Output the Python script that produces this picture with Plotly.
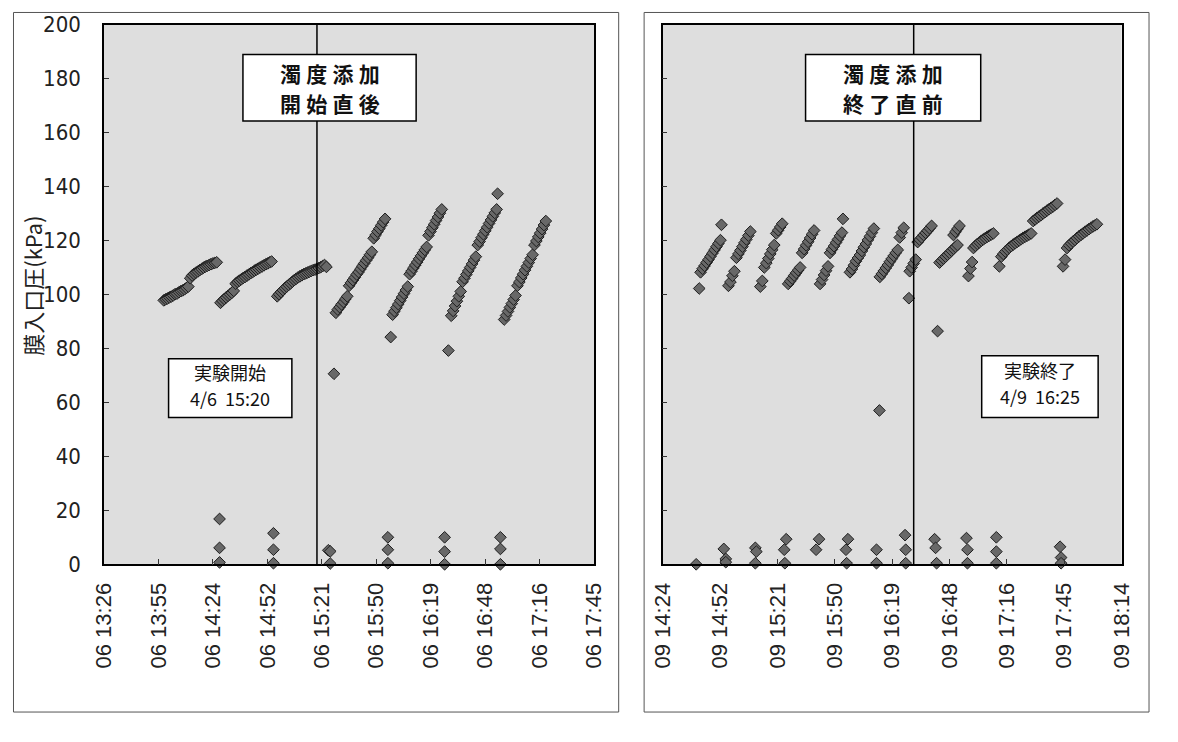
import plotly.graph_objects as go

# Membrane inlet pressure logs (kPa) for two sessions: 4/6 and 4/9.
DATE_START = "2005-04-06"
DATE_END = "2005-04-09"

start_time = [
    "13:58", "13:59", "14:00", "14:01", "14:02", "14:03", "14:04", "14:05", "14:06", "14:07", "14:08", "14:09", "14:10", "14:11",
    "14:12", "14:13", "14:14", "14:15", "14:16", "14:17", "14:18", "14:19", "14:20", "14:21", "14:22", "14:23", "14:24", "14:25", "14:26",
    "14:27:30", "14:27:30", "14:27:30",
    "14:28", "14:29", "14:30", "14:31", "14:32", "14:33", "14:34", "14:35",
    "14:36", "14:37", "14:38", "14:39", "14:40", "14:41", "14:42", "14:43", "14:44", "14:45", "14:46", "14:47", "14:48", "14:49", "14:50",
    "14:51", "14:52", "14:53", "14:54", "14:55",
    "14:56", "14:56", "14:56",
    "14:58", "14:59", "15:00", "15:01", "15:02", "15:03", "15:04", "15:05", "15:06", "15:07", "15:08", "15:09", "15:10", "15:11", "15:12",
    "15:13", "15:14", "15:15", "15:16", "15:17", "15:18", "15:19", "15:20", "15:21", "15:22", "15:23", "15:24",
    "15:25:00", "15:26:00", "15:26:00",
    "15:28",
    "15:29", "15:30", "15:31", "15:32", "15:33", "15:34", "15:35",
    "15:36", "15:37", "15:38", "15:39", "15:40", "15:41", "15:42", "15:43", "15:44", "15:45", "15:46", "15:47", "15:48",
    "15:49", "15:50", "15:51", "15:52", "15:53", "15:54", "15:55",
    "15:56:30", "15:56:30", "15:56:30",
    "15:58",
    "15:59", "16:00", "16:01", "16:02", "16:03", "16:04", "16:05", "16:06", "16:07",
    "16:08", "16:09", "16:10", "16:11", "16:12", "16:13", "16:14", "16:15", "16:16", "16:17",
    "16:18", "16:19", "16:20", "16:21", "16:22", "16:23", "16:24", "16:25",
    "16:26:30", "16:26:30", "16:26:30",
    "16:28:30",
    "16:30", "16:31", "16:32", "16:33", "16:34", "16:35",
    "16:36", "16:37", "16:38", "16:39", "16:40", "16:41", "16:42", "16:43",
    "16:44", "16:45", "16:46", "16:47", "16:48", "16:49", "16:50", "16:51", "16:52", "16:53", "16:54",
    "16:54:30",
    "16:56", "16:56", "16:56",
    "16:58", "16:59", "17:00", "17:01", "17:02", "17:03", "17:04",
    "17:05", "17:06", "17:07", "17:08", "17:09", "17:10", "17:11", "17:12", "17:13",
    "17:14", "17:15", "17:16", "17:17", "17:18", "17:19", "17:20",
]
start_kpa = [
    97.8, 98.2, 98.5, 98.9, 99.2, 99.6, 100.1, 100.3, 100.8, 101.2, 101.5, 101.9, 102.4, 102.9,
    106.0, 107.0, 107.6, 108.1, 108.5, 109.0, 109.4, 109.9, 110.3, 110.6, 110.9, 111.2, 111.5, 111.7, 111.9,
    16.8, 6.1, 0.7,
    96.9, 97.6, 98.3, 98.9, 99.5, 100.0, 100.6, 101.3,
    104.0, 104.6, 105.1, 105.6, 106.1, 106.5, 107.0, 107.4, 107.9, 108.3, 108.8, 109.2, 109.6, 110.0, 110.4,
    110.8, 111.2, 111.5, 111.9, 112.2,
    11.5, 5.4, 0.4,
    99.3, 100.1, 100.9, 101.6, 102.3, 102.9, 103.5, 104.1, 104.7, 105.3, 105.8, 106.3, 106.7, 107.1, 107.5,
    107.8, 108.1, 108.4, 108.7, 109.0, 109.2, 109.5, 109.8, 110.1, 110.5, 110.9, 110.2,
    5.2, 4.8, 0.3,
    70.6,
    93.2, 94.4, 95.3, 96.3, 97.2, 98.3, 99.3,
    103.2, 104.3, 105.3, 106.3, 107.4, 108.3, 109.4, 110.5, 111.5, 112.6, 113.6, 114.7, 115.8,
    120.8, 122.0, 123.3, 124.4, 125.6, 126.8, 128.0,
    10.0, 5.4, 0.4,
    84.2,
    92.5, 93.8, 95.1, 96.4, 97.7, 99.0, 100.3, 101.6, 102.9,
    107.5, 108.6, 109.8, 110.9, 112.0, 113.2, 114.3, 115.4, 116.5, 117.6,
    121.9, 123.3, 124.7, 126.0, 127.4, 128.7, 130.1, 131.5,
    10.0, 4.7, 0.0,
    79.2,
    92.1, 93.9, 95.7, 97.5, 99.3, 101.1,
    104.7, 106.0, 107.4, 108.7, 110.0, 111.3, 112.7, 114.0,
    118.3, 119.6, 121.0, 122.3, 123.6, 124.9, 126.3, 127.6, 128.9, 130.2, 131.5,
    137.3,
    10.0, 5.7, 0.0,
    90.7, 92.2, 93.7, 95.2, 96.6, 98.1, 99.6,
    103.2, 104.6, 106.1, 107.5, 109.0, 110.4, 111.8, 113.3, 114.7,
    118.3, 119.8, 121.3, 122.7, 124.2, 125.7, 127.2,
]

end_time = [
    "14:40:48",
    "14:42:20",
    "14:43", "14:44", "14:45", "14:46", "14:47", "14:48", "14:49", "14:50", "14:51", "14:52", "14:53",
    "14:53:30",
    "14:54:40", "14:55:40", "14:55:40",
    "14:57", "14:58", "14:59", "15:00",
    "15:01", "15:02", "15:03", "15:04", "15:05", "15:06", "15:07", "15:08",
    "15:10:30", "15:11:00", "15:10:30",
    "15:13", "15:14",
    "15:15", "15:16", "15:17", "15:18", "15:19", "15:20",
    "15:21", "15:22", "15:23", "15:24",
    "15:26:00", "15:25:00", "15:25:20",
    "15:27", "15:28", "15:29", "15:30", "15:31", "15:32", "15:33",
    "15:34", "15:35", "15:36", "15:37", "15:38", "15:39", "15:40",
    "15:41:00", "15:42:30",
    "15:43", "15:44", "15:45", "15:46", "15:47",
    "15:48", "15:49", "15:50", "15:51", "15:52", "15:53", "15:54",
    "15:54:30",
    "15:56:00", "15:57:00", "15:56:20",
    "15:58", "15:59", "16:00", "16:01", "16:02", "16:03", "16:04", "16:05", "16:06", "16:07", "16:08", "16:09", "16:10",
    "16:11:20", "16:11:20",
    "16:12:48",
    "16:13", "16:14", "16:15", "16:16", "16:17", "16:18", "16:19", "16:20", "16:21", "16:22",
    "16:23", "16:24", "16:25",
    "16:25:40", "16:26:00", "16:26:00",
    "16:27:36",
    "16:28", "16:29", "16:30", "16:31",
    "16:32", "16:33", "16:34", "16:35", "16:36", "16:37", "16:38", "16:39",
    "16:40:30", "16:41:00", "16:41:30",
    "16:42:00",
    "16:43", "16:44", "16:45", "16:46", "16:47", "16:48", "16:49", "16:50", "16:51", "16:52",
    "16:50", "16:51", "16:52", "16:53",
    "16:56:30", "16:57:00", "16:57:00",
    "16:57:30", "16:58:30", "16:59:20",
    "17:00", "17:01", "17:02", "17:03", "17:04", "17:05", "17:06", "17:07", "17:08", "17:09", "17:10",
    "17:11:30", "17:11:30", "17:11:30",
    "17:13:00",
    "17:14", "17:15", "17:16", "17:17", "17:18", "17:19", "17:20", "17:21", "17:22", "17:23", "17:24", "17:25",
    "17:26", "17:27", "17:28", "17:29",
    "17:30", "17:31", "17:32", "17:33", "17:34", "17:35", "17:36", "17:37", "17:38", "17:39", "17:40", "17:41", "17:42",
    "17:43:30", "17:44:00", "17:44:00",
    "17:45", "17:46",
    "17:47", "17:48", "17:49", "17:50", "17:51", "17:52", "17:53", "17:54", "17:55", "17:56", "17:57", "17:58",
    "17:59", "18:00", "18:01", "18:02",
]
end_kpa = [
    0.0,
    102.2,
    108.2, 109.5, 110.6, 111.8, 112.9, 114.1, 115.3, 116.5, 117.7, 118.9, 120.1,
    125.8,
    5.7, 2.0, 0.8,
    103.2, 104.6, 106.9, 108.6,
    113.6, 115.0, 116.3, 117.7, 119.1, 120.4, 121.8, 123.3,
    6.1, 4.7, 0.4,
    102.9, 105.0,
    110.0, 111.6, 113.3, 115.0, 116.6, 118.3,
    122.6, 123.8, 125.0, 126.2,
    9.3, 5.4, 0.4,
    103.9, 104.9, 105.9, 107.0, 108.0, 109.0, 110.0,
    115.4, 116.8, 118.2, 119.5, 120.9, 122.3, 123.7,
    5.4, 9.3,
    103.9, 105.5, 107.2, 108.8, 110.4,
    115.4, 116.7, 117.9, 119.2, 120.4, 121.7, 122.9,
    128.0,
    5.4, 9.3, 0.4,
    108.2, 109.4, 110.8, 112.3, 113.5, 114.6, 116.1, 117.5, 118.7, 120.2, 121.5, 122.9, 124.4,
    5.4, 0.4,
    57.0,
    106.5, 107.6, 108.7, 109.8, 110.9, 112.1, 113.2, 114.3, 115.4, 116.5,
    121.1, 122.9, 124.7,
    10.8, 5.4, 0.4,
    98.6,
    108.6, 110.0, 111.5, 112.9,
    119.4, 120.3, 121.1, 122.0, 122.8, 123.6, 124.5, 125.4,
    9.3, 6.1, 0.4,
    86.4,
    111.8, 112.5, 113.3, 114.0, 114.7, 115.4, 116.2, 116.9, 117.6, 118.3,
    122.0, 123.2, 124.3, 125.4,
    9.7, 5.4, 0.4,
    106.8, 109.6, 112.0,
    117.2, 118.0, 118.7, 119.3, 119.9, 120.4, 120.9, 121.4, 121.8, 122.2, 122.6,
    10.0, 4.7, 0.4,
    110.4,
    114.0, 115.0, 115.9, 116.6, 117.3, 117.9, 118.5, 119.0, 119.5, 120.0, 120.5, 121.0,
    121.4, 121.8, 122.2, 122.6,
    127.2, 127.8, 128.4, 128.9, 129.4, 130.0, 130.5, 131.1, 131.6, 132.1, 132.6, 133.2, 133.7,
    6.5, 2.5, 0.4,
    110.4, 112.9,
    117.2, 118.2, 118.9, 119.6, 120.2, 120.9, 121.5, 122.1, 122.6, 123.2, 123.7, 124.2,
    124.7, 125.2, 125.6, 126.0,
]

# Axis ticks (Excel-style 0.02-day steps)
start_tick_times = ["13:26:24", "13:55:12", "14:24:00", "14:52:48", "15:21:36",
                    "15:50:24", "16:19:12", "16:48:00", "17:16:48", "17:45:36"]
start_tick_text = ["06 13:26", "06 13:55", "06 14:24", "06 14:52", "06 15:21",
                   "06 15:50", "06 16:19", "06 16:48", "06 17:16", "06 17:45"]
end_tick_times = ["14:24:00", "14:52:48", "15:21:36", "15:50:24", "16:19:12",
                  "16:48:00", "17:16:48", "17:45:36", "18:14:24"]
end_tick_text = ["09 14:24", "09 14:52", "09 15:21", "09 15:50", "09 16:19",
                 "09 16:48", "09 17:16", "09 17:45", "09 18:14"]
y_ticks = [0, 20, 40, 60, 80, 100, 120, 140, 160, 180, 200]

# Reference times marked with vertical lines
start_marker_time = "15:19"
end_marker_time = "16:30"

# Page is 1178x742; the page body keeps its default 8px margin around the figure.
PAGE_W, PAGE_H, BODY_MARGIN = 1178, 742, 8
W, H = PAGE_W - 2 * BODY_MARGIN, PAGE_H - 2 * BODY_MARGIN
MARK_FILL = "#686868"
MARK_EDGE = "#1e1e1e"
PLOT_BG = "#dedede"
JP_FONT = "Noto Sans CJK JP"
NUM_FONT = "DejaVu Sans Condensed, Liberation Sans Narrow, DejaVu Sans"
TICK_FONT = "Liberation Sans, Arial, sans-serif"
SP = "\u2005"  # narrow space used to loosen the heading glyphs


def px(x):
    """Page x position -> paper fraction."""
    return (x - BODY_MARGIN) / W


def py(y):
    """Page y position (from top) -> paper fraction."""
    return 1 - (y - BODY_MARGIN) / H


def stamp(date, times):
    return [f"{date} {t}" for t in times]


marker = dict(symbol="diamond", size=9, color=MARK_FILL, line=dict(color=MARK_EDGE, width=1))

fig = go.Figure()
fig.add_trace(go.Scatter(x=stamp(DATE_START, start_time), y=start_kpa, mode="markers",
                         marker=marker, xaxis="x", yaxis="y", cliponaxis=False,
                         showlegend=False, hoverinfo="skip"))
fig.add_trace(go.Scatter(x=stamp(DATE_END, end_time), y=end_kpa, mode="markers",
                         marker=marker, xaxis="x2", yaxis="y2", cliponaxis=False,
                         showlegend=False, hoverinfo="skip"))

y_dom = [py(580), py(21)]
common_y = dict(range=[0, 200], tickvals=y_ticks, ticks="inside", ticklen=5, tickcolor="#333",
                showline=True, linecolor="black", linewidth=1.5, mirror=True,
                showgrid=False, zeroline=False, domain=y_dom)
common_x = dict(type="date", tickangle=-90, ticks="inside", ticklen=6, tickcolor="#333",
                showline=True, linecolor="black", linewidth=1.5, mirror=True,
                showgrid=False, zeroline=False,
                tickfont=dict(family=TICK_FONT, size=22, color="#222"), ticklabelstandoff=8)

fig.update_layout(
    width=W, height=H, autosize=False,
    margin=dict(l=0, r=0, t=0, b=0),
    paper_bgcolor="white", plot_bgcolor=PLOT_BG,
    xaxis=dict(domain=[px(101), px(602)], anchor="y",
               range=[f"{DATE_START} {start_tick_times[0]}", f"{DATE_START} {start_tick_times[-1]}"],
               tickvals=stamp(DATE_START, start_tick_times), ticktext=start_tick_text, **common_x),
    yaxis=dict(anchor="x", tickfont=dict(family=NUM_FONT, size=22, color="#222"),
               ticklabelstandoff=17, **common_y),
    xaxis2=dict(domain=[px(672), px(1141)], anchor="y2",
                range=[f"{DATE_END} {end_tick_times[0]}", f"{DATE_END} {end_tick_times[-1]}"],
                tickvals=stamp(DATE_END, end_tick_times), ticktext=end_tick_text, **common_x),
    yaxis2=dict(anchor="x2", showticklabels=False, **common_y),
)

# Outer chart frames and the vertical reference lines
frame = dict(type="rect", xref="paper", yref="paper", line=dict(color="#555", width=1), layer="below")
fig.add_shape(x0=px(8.5), x1=px(627), y0=py(733), y1=py(8.5), **frame)
fig.add_shape(x0=px(653), x1=px(1169), y0=py(733), y1=py(8.5), **frame)
fig.add_shape(type="line", xref="x", yref="y domain",
              x0=f"{DATE_START} {start_marker_time}", x1=f"{DATE_START} {start_marker_time}",
              y0=0, y1=1, line=dict(color="black", width=1.5))
fig.add_shape(type="line", xref="x2", yref="y2 domain",
              x0=f"{DATE_END} {end_marker_time}", x1=f"{DATE_END} {end_marker_time}",
              y0=0, y1=1, line=dict(color="black", width=1.5))

# Label boxes (white, black border) with their text lines
boxes = [
    dict(rect=(243, 52, 420, 121), lines=[(f"<b>濁{SP}度{SP}添{SP}加</b>", 71.5), (f"<b>開{SP}始{SP}直{SP}後</b>", 102.5)], size=21),
    dict(rect=(818, 52, 997, 121), lines=[(f"<b>濁{SP}度{SP}添{SP}加</b>", 71.5), (f"<b>終{SP}了{SP}直{SP}前</b>", 102.5)], size=21),
    dict(rect=(167, 367, 293, 428), lines=[("実験開始", 381), ("4/6  15:20", 407.5)], size=18),
    dict(rect=(998, 364, 1117, 428), lines=[("実験終了", 379), ("4/9  16:25", 405.5)], size=18),
]
for box in boxes:
    x0, y0, x1, y1 = box["rect"]
    fig.add_shape(type="rect", xref="paper", yref="paper",
                  x0=px(x0), x1=px(x1), y0=py(y1), y1=py(y0),
                  fillcolor="white", line=dict(color="black", width=1.5), layer="above")
    for text, ty in box["lines"]:
        fig.add_annotation(x=px((x0 + x1) / 2), y=py(ty), xref="paper", yref="paper",
                           text=text, showarrow=False, xanchor="center", yanchor="middle",
                           font=dict(family=JP_FONT, size=box["size"], color="#111"))

fig.add_annotation(x=px(28), y=py(292), xref="paper", yref="paper", showarrow=False,
                   text="膜入口圧(kPa)", textangle=-90, xanchor="center", yanchor="middle",
                   font=dict(family=JP_FONT, size=22, color="#222"))

fig.write_html("out.html")
